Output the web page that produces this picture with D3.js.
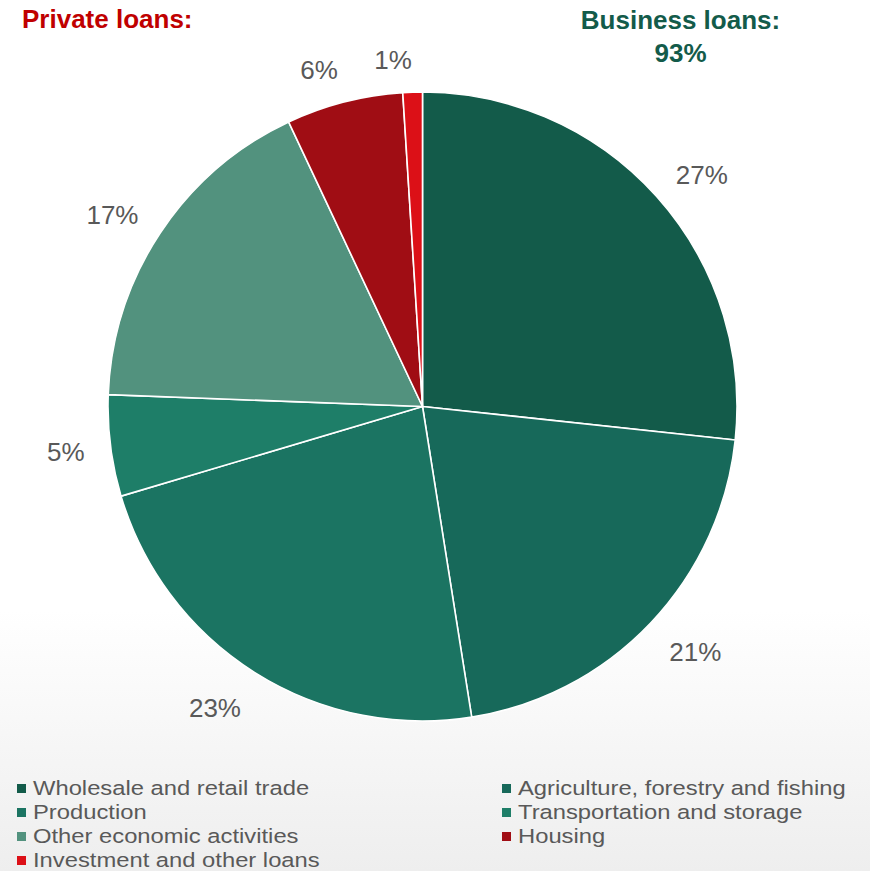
<!DOCTYPE html>
<html>
<head>
<meta charset="utf-8">
<script src="https://cdn.jsdelivr.net/npm/d3@7"></script>
<style>
  html, body { margin: 0; padding: 0; background: #fff; }
  svg { display: block; font-family: "Liberation Sans", Arial, sans-serif; }
</style>
</head>
<body>
<svg id="chart" width="870" height="871"></svg>
<script>
// Loan portfolio by sector, share of total (%)
const categories = [
  "Wholesale and retail trade",
  "Agriculture, forestry and fishing",
  "Production",
  "Transportation and storage",
  "Other economic activities",
  "Housing",
  "Investment and other loans"
];
const shares = [26.7, 20.8, 22.9, 5.2, 17.4, 6.0, 1.0];
const colors = ["#135b4a", "#17695a", "#1b7462", "#1e7e68", "#52927e", "#a00d14", "#dc1017"];
const businessShare = 93;

const svg = d3.select("#chart");
const W = 870, H = 871;

// soft grey fade at the foot of the page
const defs = svg.append("defs");
const grad = defs.append("linearGradient")
  .attr("id", "bg").attr("x1", 0).attr("y1", 0).attr("x2", 0).attr("y2", 1);
grad.append("stop").attr("offset", "0.7").attr("stop-color", "#ffffff");
grad.append("stop").attr("offset", "1").attr("stop-color", "#eeeeee");
svg.append("rect").attr("width", W).attr("height", H).attr("fill", "url(#bg)");

const cx = 422.5, cy = 406.5, R = 314.5;

const pie = d3.pie().value(d => d.v).sort(null);
const arc = d3.arc().innerRadius(0).outerRadius(R);
const data = categories.map((c, i) => ({ c, v: shares[i], col: colors[i] }));
const arcs = pie(data);

const g = svg.append("g").attr("transform", `translate(${cx},${cy})`);
g.selectAll("path.slice")
  .data(arcs)
  .join("path")
  .attr("class", "slice")
  .attr("d", arc)
  .attr("fill", d => d.data.col)
  .attr("stroke", "#ffffff")
  .attr("stroke-width", 1.6)
  .attr("stroke-linejoin", "round");

// percentage labels: the label box hangs off a point just outside the rim,
// pushed sideways by half its width toward the outside of the pie
const fmt = d3.format(".0f");
const labelSize = 26;
const gap = 26;
const labels = g.selectAll("text.pct")
  .data(arcs)
  .join("text")
  .attr("class", "pct")
  .attr("text-anchor", "middle")
  .attr("font-size", labelSize)
  .attr("fill", "#595959")
  .text(d => fmt(d.data.v) + "%");

labels.each(function(d) {
  const bb = this.getBBox();
  const a = (d.startAngle + d.endAngle) / 2;
  const sx = Math.sin(a), sy = -Math.cos(a);
  const halfW = bb.width / 2, halfH = 7;
  const r = R + gap;
  const x = sx * r + Math.sign(sx) * halfW;
  const y = sy * (r + halfH) + Math.max(0, sy) * 8;
  d3.select(this)
    .attr("x", x)
    .attr("y", y + 9.5);
});

// headings
svg.append("text")
  .attr("x", 22).attr("y", 28)
  .attr("font-size", 26).attr("font-weight", "bold")
  .attr("fill", "#c00000")
  .text("Private loans:");

svg.append("text")
  .attr("x", 680.5).attr("y", 28.5)
  .attr("text-anchor", "middle")
  .attr("font-size", 26).attr("font-weight", "bold")
  .attr("fill", "#135b4a")
  .text("Business loans:");

svg.append("text")
  .attr("x", 680.5).attr("y", 61.5)
  .attr("text-anchor", "middle")
  .attr("font-size", 26).attr("font-weight", "bold")
  .attr("fill", "#135b4a")
  .text(businessShare + "%");

// legend: two columns, filled row by row; entry text is set slightly wide
const legend = svg.append("g");
const colX = [17, 502];
const rowY0 = 784, rowStep = 24;
const items = legend.selectAll("g.item")
  .data(data)
  .join("g")
  .attr("class", "item")
  .attr("transform", (d, i) => `translate(${colX[i % 2]},${rowY0 + Math.floor(i / 2) * rowStep})`);
items.append("rect")
  .attr("width", 9).attr("height", 9)
  .attr("fill", d => d.col);
items.append("text")
  .attr("transform", "translate(16,10.5) scale(1.16,1)")
  .attr("font-size", 20.5)
  .attr("fill", "#595959")
  .text(d => d.c);
</script>
</body>
</html>
